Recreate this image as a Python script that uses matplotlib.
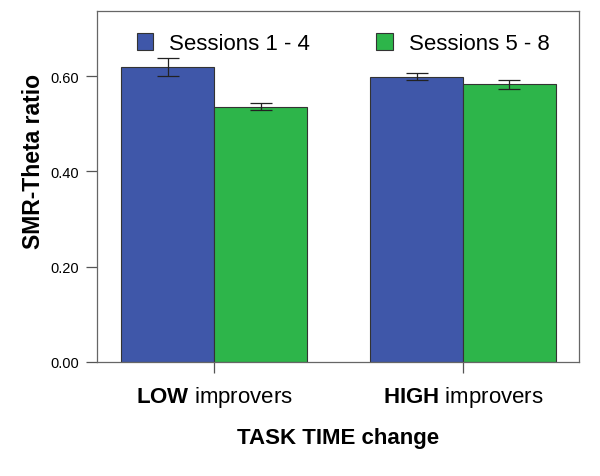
import matplotlib.pyplot as plt
import numpy as np

plt.rcParams['font.family'] = ['Liberation Sans', 'DejaVu Sans']
plt.rcParams['mathtext.fontset'] = 'custom'
plt.rcParams['mathtext.rm'] = 'Liberation Sans'
plt.rcParams['mathtext.bf'] = 'Liberation Sans:bold'

groups = ["LOW", "HIGH"]
series = ["Sessions 1 - 4", "Sessions 5 - 8"]
means_s1 = [0.619, 0.599]
means_s2 = [0.536, 0.583]
err_s1 = [0.019, 0.0075]
err_s2 = [0.008, 0.009]
colors = ["#3F57A9", "#2DB54A"]

fig = plt.figure(figsize=(6, 4.77), dpi=100)
ax = fig.add_axes([0.162, 0.239, 0.803, 0.736])

x = np.arange(len(groups))
w = 0.373
for off, vals, errs, col, lab in [(-w / 2, means_s1, err_s1, colors[0], series[0]),
                                  (w / 2, means_s2, err_s2, colors[1], series[1])]:
    ax.bar(x + off, vals, w, color=col, edgecolor="#333333", linewidth=0.8,
           label=lab, zorder=2)
    ax.errorbar(x + off, vals, yerr=errs, fmt="none", ecolor="#222222",
                elinewidth=0.9, capsize=8, capthick=0.9, zorder=3)

ax.set_xlim(-0.47, 1.466)
ax.set_ylim(0, 0.737)
ax.set_yticks([0, 0.2, 0.4, 0.6])
ax.set_yticklabels(["0.00", "0.20", "0.40", "0.60"], fontsize=10.5)
ax.set_xticks(x)
ax.set_xticklabels([r"$\bf{%s}$ improvers" % g for g in groups], fontsize=16)
ax.tick_params(axis="both", direction="out", length=8, color="#555555", width=0.9)
ax.tick_params(axis="x", pad=8)
ax.tick_params(axis="y", pad=5)
for s in ax.spines.values():
    s.set_color("#666666")
    s.set_linewidth(0.9)

ax.set_ylabel("SMR-Theta ratio", fontsize=16.5, fontweight="bold")
ax.yaxis.set_label_coords(-0.108, 0.573)
ax.set_xlabel("TASK TIME change", fontsize=16, fontweight="bold", labelpad=13)

ax.legend(loc="upper center", bbox_to_anchor=(0.51, 0.993), ncol=2, frameon=False,
          fontsize=16, handlelength=0.75, handleheight=0.75, columnspacing=3.0,
          handletextpad=0.7, borderaxespad=0.5)

fig.savefig("out.png", dpi=100)
